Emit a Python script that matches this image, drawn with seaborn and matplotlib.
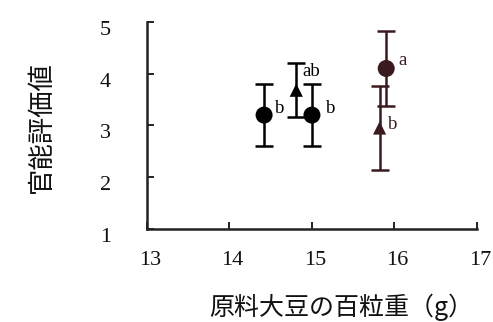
import matplotlib
matplotlib.use("Agg")
import matplotlib.pyplot as plt
import matplotlib.transforms as mtransforms
import seaborn as sns
import pandas as pd

# Sensory score vs. 100-seed weight of raw soybeans
seed_weight = [14.42, 14.81, 15.00, 15.90, 15.82]
score_mean = [3.20, 3.68, 3.20, 4.10, 2.95]
score_sd = [0.60, 0.52, 0.60, 0.72, 0.81]
sig_letters = ["b", "ab", "b", "a", "b"]
group = ["g1", "g2", "g1", "g3", "g4"]

x_ticks = [13, 14, 15, 16, 17]
y_ticks = [1, 2, 3, 4, 5]

marker_map = {"g1": "o", "g2": "^", "g3": "o", "g4": "^"}
color_map = {"g1": "black", "g2": "black", "g3": "#3a1a1e", "g4": "#3a1a1e"}
size_map = {"g1": 150, "g2": 90, "g3": 150, "g4": 90}
letter_offsets = [(16, 7), (15, 19), (19, 7), (16, 8), (13, 4)]

df = pd.DataFrame({"w": seed_weight, "s": score_mean, "sd": score_sd,
                   "lab": sig_letters, "g": group})

sns.set_theme(style="white")
plt.rcParams["font.family"] = ["Liberation Serif", "DejaVu Serif"]

fig = plt.figure(figsize=(4.93, 3.22), dpi=100)
ax = fig.add_axes([0.298, 0.289, 0.6695, 0.643])

for _, r in df.iterrows():
    ax.errorbar(r["w"], r["s"], yerr=r["sd"], fmt="none",
                ecolor=color_map[r["g"]], elinewidth=1.8,
                capsize=6.5, capthick=1.8, zorder=2)

sns.scatterplot(data=df, x="w", y="s", hue="g", style="g", size="g",
                markers=marker_map, palette=color_map, sizes=size_map,
                edgecolor="none", legend=False, ax=ax, zorder=3)

for (_, r), (dx, dy) in zip(df.iterrows(), letter_offsets):
    ax.annotate(r["lab"], (r["w"], r["s"]), xytext=(dx, dy),
                textcoords="offset pixels", ha="center", va="center",
                fontsize=13.5, color=color_map[r["g"]],
                family=["Liberation Serif"])

ax.set_xlim(13, 17)
ax.set_ylim(1, 5)
ax.set_xticks(x_ticks)
ax.set_yticks(y_ticks)
ax.set_xticklabels([str(t) for t in x_ticks])
ax.set_yticklabels([str(t) for t in y_ticks])

for side in ["top", "right"]:
    ax.spines[side].set_visible(False)
for side in ["left", "bottom"]:
    ax.spines[side].set_color("#222222")
    ax.spines[side].set_linewidth(1.8)

ax.tick_params(axis="both", direction="in", length=5, width=1.4,
               bottom=True, left=True,
               colors="#222222", labelsize=16, labelcolor="#111111")
ax.tick_params(axis="y", pad=26)
ax.tick_params(axis="x", pad=16)

shift_y = mtransforms.ScaledTranslation(0, -6 / 100, fig.dpi_scale_trans)
for lbl in ax.get_yticklabels():
    lbl.set_transform(lbl.get_transform() + shift_y)
shift_x = mtransforms.ScaledTranslation(3 / 100, 0, fig.dpi_scale_trans)
for lbl in ax.get_xticklabels():
    lbl.set_transform(lbl.get_transform() + shift_x)

cjk = ["Noto Sans CJK JP", "DejaVu Sans"]
ax.set_xlabel("原料大豆の百粒重（g）", family=cjk, fontsize=18, color="#111111")
ax.set_ylabel("官能評価値", family=cjk, fontsize=19, color="#111111")
ax.xaxis.set_label_coords(0.59, -0.31)
ax.yaxis.set_label_coords(-0.28, 0.49)

fig.savefig("out.png", dpi=100)
